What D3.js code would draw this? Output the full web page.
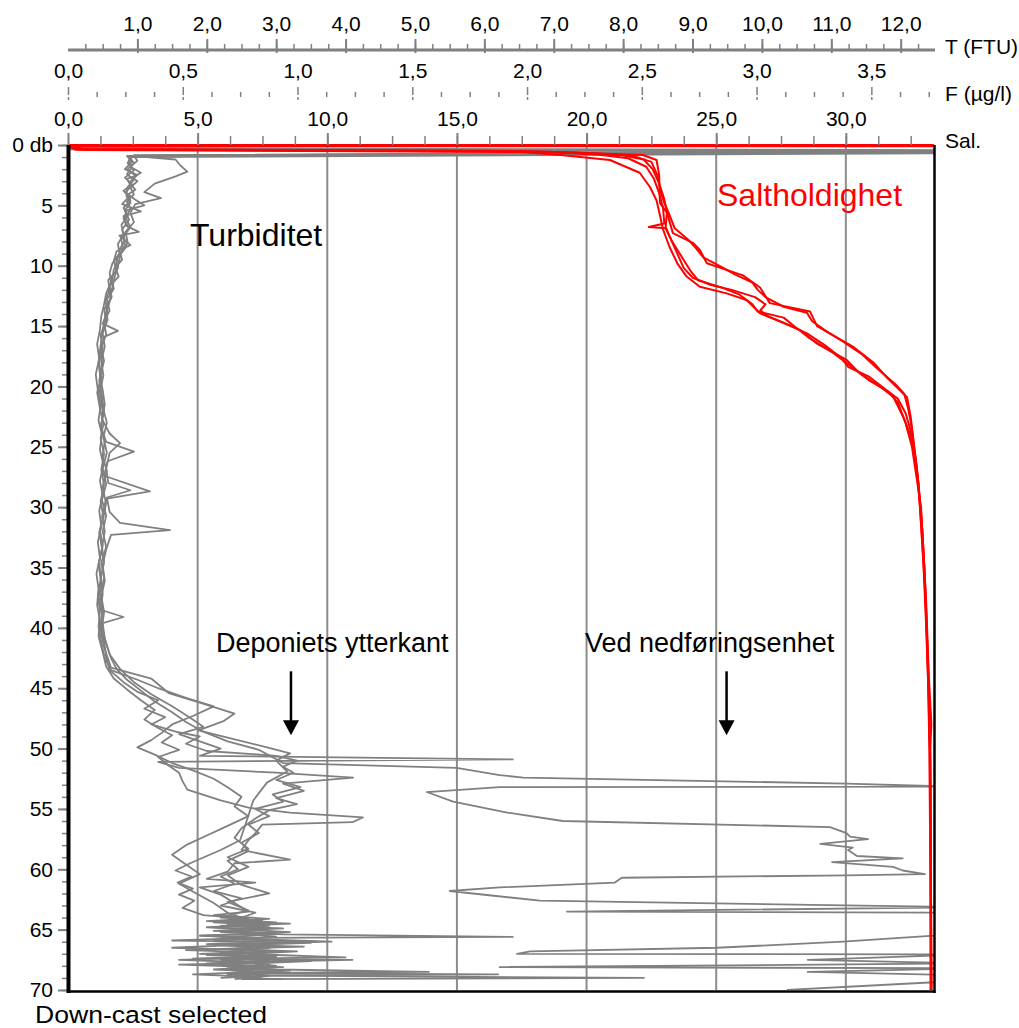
<!DOCTYPE html>
<html>
<head>
<meta charset="utf-8">
<script src="https://cdn.jsdelivr.net/npm/d3@7"></script>
<style>
body { margin: 0; background: #fff; }
svg { display: block; font-family: "Liberation Sans", Arial, sans-serif; }
</style>
</head>
<body>
<svg width="1019" height="1028"></svg>
<script>
// tick values for the three top scales and the depth axis
const turbTicks = d3.range(1, 13);
const fluorTicks = [0, 0.5, 1, 1.5, 2, 2.5, 3, 3.5];
const salTicks = [0, 5, 10, 15, 20, 25, 30];
const depthTicks = d3.range(0, 71, 5);

// turbidity casts, [depth (db), T (FTU)]
const turbCastA = [[0.25,0],[0.45,15],[0.95,1.0],[1.2,1.55],[1.7,1.62],[2.2,1.72],[2.6,1.55],[3.2,1.25],[3.9,1.1],[4.4,1.34],[4.9,0.97],[5.6,0.9],[6.4,0.95],[7.2,0.83],[8.1,0.86],[9.0,0.76],[10.0,0.72],[11.0,0.67],[12.0,0.63],[13.0,0.6],[14.1,0.54],[15.3,0.5],[16.6,0.47],[18.0,0.44],[19.4,0.47],[20.7,0.44],[22.0,0.5],[23.4,0.48],[24.6,0.55],[25.4,0.95],[26.2,0.57],[27.4,0.52],[28.7,1.18],[29.3,0.56],[30.6,0.52],[31.9,0.46],[33.2,0.5],[34.6,0.45],[36.0,0.48],[37.4,0.44],[38.8,0.49],[40.2,0.47],[41.6,0.52],[42.6,0.58],[43.3,0.62],[44.2,1.2],[45.4,1.45],[46.2,1.9],[47.1,2.4],[47.7,2.25],[48.5,1.88],[49.1,2.3],[49.9,2.87],[50.4,3.2],[51.0,3.0],[51.9,3.16],[52.8,2.87],[54.3,2.67],[55.9,2.58],[57.6,2.48],[58.4,2.2],[59.5,1.76],[60.1,1.55],[60.6,1.78],[61.1,1.58],[61.6,1.8],[62.1,1.6],[62.6,1.82],[63.2,1.65],[63.8,1.95],[64.1,2.6],[64.3,2.0],[64.5,2.9],[64.7,2.2],[64.9,3.1],[65.1,2.3],[65.3,2.9],[65.5,1.9],[65.7,2.7],[65.9,2.1],[66.1,3.3],[66.3,2.2],[66.5,2.9],[66.7,1.7],[66.9,2.8],[67.1,2.0],[67.3,3.0],[67.5,2.2],[67.7,2.9],[67.9,1.6],[68.1,2.7],[68.3,2.1],[68.5,3.0],[68.7,2.3],[68.9,2.8],[69.1,2.4]];
const turbCastB = [[0.3,0],[0.5,13],[0.85,0.95],[1.3,0.88],[1.9,0.92],[2.4,0.85],[2.9,0.95],[3.4,0.87],[4.0,0.84],[4.6,0.9],[5.2,0.8],[5.9,0.86],[6.6,0.77],[7.4,0.8],[8.2,0.72],[9.0,0.74],[9.8,0.64],[10.6,0.6],[11.4,0.62],[12.3,0.55],[13.2,0.52],[14.2,0.48],[15.3,0.46],[16.5,0.42],[17.7,0.45],[19.0,0.4],[20.3,0.43],[21.6,0.47],[22.8,0.44],[24.0,0.49],[25.2,0.46],[26.5,0.51],[27.8,0.46],[29.0,0.5],[30.3,0.45],[31.6,0.48],[32.9,0.43],[34.2,0.46],[35.5,0.41],[36.8,0.44],[38.1,0.42],[39.4,0.46],[40.7,0.44],[42.0,0.5],[43.2,0.55],[44.2,0.66],[45.1,0.85],[46.0,1.05],[46.8,1.25],[47.6,1.1],[48.3,1.3],[48.9,1.5],[49.5,1.35],[50.1,1.6],[50.7,1.3],[51.4,1.45],[52.0,1.6],[52.7,1.65],[53.4,1.72],[54.3,2.2],[54.9,2.6],[55.3,3.2],[55.7,4.25],[56.1,4.1],[56.3,2.8],[57.0,2.7],[57.6,2.6],[58.4,2.5],[59.2,3.2],[59.5,2.4],[60.2,2.3],[60.8,2.0],[61.1,2.7],[61.5,1.9],[62.1,2.2],[62.8,2.4],[63.5,2.6],[63.8,2.1],[64.1,2.9],[64.3,2.3],[64.5,3.2],[64.7,2.4],[64.9,2.9],[65.1,2.1],[65.3,3.0],[65.5,1.9],[65.7,2.6],[65.9,1.5],[66.0,2.7],[66.2,2.0],[66.4,3.4],[66.6,2.2],[66.8,2.8],[67.0,1.9],[67.2,2.7],[67.4,2.1],[67.5,1.6],[67.7,2.6],[67.9,2.0],[68.1,3.1],[68.3,2.2],[68.5,2.7],[68.7,1.8],[68.9,2.6],[69.0,2.2]];
const turbCastC = [[0.35,0],[0.55,12],[0.9,0.85],[1.4,0.92],[2.0,0.82],[2.5,1.0],[2.8,0.85],[3.3,0.9],[3.8,0.8],[4.3,0.88],[4.9,0.78],[5.5,1.05],[5.9,0.8],[6.7,0.84],[7.2,1.02],[7.5,0.74],[8.3,0.9],[8.8,0.7],[9.6,0.66],[10.4,0.7],[11.2,0.58],[12.0,0.6],[12.9,0.54],[13.8,0.57],[14.8,0.5],[15.4,0.72],[15.9,0.52],[17.1,0.47],[18.3,0.5],[19.5,0.45],[20.8,0.49],[22.1,0.52],[23.3,0.47],[24.5,0.53],[25.8,0.5],[27.0,0.56],[28.3,0.5],[29.5,0.54],[30.8,0.49],[32.0,0.53],[33.3,0.49],[34.6,0.52],[35.9,0.47],[37.2,0.5],[38.5,0.47],[39.1,0.8],[39.6,0.5],[40.9,0.53],[42.2,0.6],[43.4,0.75],[44.5,0.95],[45.5,1.2],[46.5,1.5],[47.4,1.75],[48.2,1.95],[48.8,1.6],[49.4,1.9],[50.0,2.2],[50.6,1.9],[50.9,6.41],[51.1,1.3],[51.6,1.6],[52.0,3.0],[52.4,4.11],[52.9,3.1],[53.5,3.4],[54.1,3.0],[54.6,3.3],[55.1,2.9],[55.8,2.7],[56.6,2.5],[57.4,2.4],[58.3,2.6],[59.0,2.3],[59.8,2.6],[60.5,2.3],[61.3,2.5],[62.0,2.9],[62.7,2.3],[63.4,2.6],[64.0,2.2],[64.2,2.8],[64.4,2.3],[64.6,2.9],[64.8,2.1],[65.0,2.7],[65.2,2.4],[65.4,3.1],[65.6,6.41],[65.7,2.2],[65.9,2.9],[66.1,3.5],[66.3,2.3],[66.5,1.5],[66.7,2.6],[66.9,2.2],[67.1,3.0],[67.3,4.0],[67.4,2.4],[67.6,2.9],[67.8,2.0],[68.0,2.8],[68.2,2.3],[68.4,3.2],[68.6,2.5],[68.8,2.9],[69.0,2.6]];
const turbCastD = [[0.28,0],[0.5,14.5],[0.9,0.95],[1.3,1.0],[1.8,0.9],[2.3,1.05],[2.7,0.93],[3.0,1.0],[3.5,0.9],[4.1,0.95],[4.7,0.85],[5.3,0.9],[6.0,0.83],[6.8,0.9],[7.6,0.8],[8.5,0.83],[9.3,0.72],[10.1,0.68],[10.9,0.73],[11.7,0.6],[12.6,0.63],[13.5,0.55],[14.5,0.57],[15.6,0.5],[16.7,0.53],[17.9,0.48],[19.1,0.51],[20.4,0.46],[21.7,0.5],[23.0,0.56],[24.2,0.51],[25.5,0.56],[26.8,0.5],[28.1,0.55],[29.4,0.49],[30.7,0.55],[32.0,0.5],[33.3,0.55],[34.6,0.48],[35.9,0.52],[37.2,0.46],[38.5,0.5],[39.8,0.47],[41.1,0.52],[42.4,0.55],[43.5,0.6],[44.5,0.8],[45.3,1.0],[46.0,1.3],[46.7,1.1],[47.4,1.4],[48.0,1.2],[48.6,1.55],[49.0,1.9],[49.6,1.7],[50.2,2.0],[50.6,3.0],[51.0,3.3],[51.5,3.1],[52.0,3.25],[52.6,3.0],[53.2,3.35],[53.8,2.95],[54.4,3.1],[55.0,2.7],[55.6,2.9],[56.3,2.6],[57.0,2.75],[57.8,2.5],[58.5,2.6],[59.3,2.3],[60.0,2.45],[60.6,2.2],[61.2,2.4],[61.8,2.1],[62.4,2.5],[63.0,2.2],[63.6,2.7],[64.2,2.4],[64.4,3.0],[64.6,2.3],[64.8,2.9],[65.0,2.5],[65.2,3.2],[65.4,2.6],[65.6,3.0],[65.8,2.4],[66.0,3.6],[66.2,2.5],[66.4,3.1],[66.6,2.3],[66.8,3.3],[67.0,2.6],[67.2,3.0],[67.4,2.4],[67.6,3.5],[67.8,2.7],[68.0,3.0],[68.2,2.4],[68.4,3.1],[68.6,2.6],[68.7,6.2],[68.8,2.9],[69.0,2.5],[69.1,3.1]];
const turbCastE = [[0.32,0],[0.55,13.5],[0.95,0.88],[1.5,0.95],[2.0,0.86],[2.6,0.98],[3.1,0.88],[3.7,0.97],[4.2,0.84],[4.8,0.9],[5.4,0.82],[6.2,0.88],[7.0,0.78],[7.9,0.82],[8.7,0.74],[9.5,0.78],[10.3,0.66],[11.1,0.64],[11.9,0.58],[12.7,0.62],[13.6,0.52],[14.6,0.55],[15.7,0.47],[16.8,0.5],[18.0,0.45],[19.2,0.48],[20.5,0.42],[21.8,0.46],[23.1,0.51],[24.3,0.47],[25.6,0.52],[26.9,0.48],[28.2,0.52],[29.5,0.47],[30.8,0.51],[32.1,0.45],[33.4,0.49],[34.7,0.44],[36.0,0.47],[37.3,0.43],[38.6,0.46],[39.9,0.44],[41.2,0.48],[42.5,0.53],[43.5,0.62],[44.3,1.0],[45.0,1.3],[45.8,1.7],[46.5,2.1],[47.3,1.8],[48.0,1.5],[48.7,1.35],[49.3,1.2],[49.9,1.0],[50.5,1.25],[51.2,1.5],[51.8,1.8],[52.5,2.1],[53.2,2.3],[54.0,2.5],[54.8,2.4],[55.6,2.6],[56.4,2.3],[57.2,2.0],[58.0,1.7],[58.8,1.5],[59.6,1.7],[60.4,1.9],[61.2,1.6],[62.0,1.85],[62.8,2.1],[63.6,2.3],[64.2,2.6],[64.4,2.1],[64.6,2.8],[64.8,2.0],[65.0,2.7],[65.2,2.2],[65.4,3.0],[65.6,2.3],[65.8,2.8],[66.0,3.8],[66.2,2.1],[66.4,2.9],[66.6,2.4],[66.8,3.1],[67.0,2.2],[67.2,2.8],[67.4,1.8],[67.5,4.1],[67.7,2.3],[67.9,2.9],[68.1,2.4],[68.3,3.0],[68.5,5.2],[68.6,2.3],[68.8,2.8],[69.0,8.3],[69.1,2.5]];
const turbCastF = [[0.3,0],[0.6,16],[1.0,0.9],[1.5,0.86],[2.1,0.95],[2.7,0.82],[3.3,0.93],[3.9,0.83],[4.5,0.96],[5.0,1.1],[5.4,0.85],[6.1,0.8],[6.9,0.88],[7.7,0.76],[8.6,0.8],[9.4,0.69],[10.2,0.72],[11.0,0.62],[11.9,0.66],[12.8,0.56],[13.7,0.6],[14.7,0.52],[15.7,0.55],[16.8,0.48],[17.9,0.52],[19.1,0.46],[20.3,0.5],[21.5,0.53],[22.7,0.49],[23.9,0.6],[24.7,0.75],[25.5,0.6],[26.8,0.55],[28.0,0.58],[28.6,0.9],[29.2,0.56],[30.4,0.6],[31.3,0.75],[31.9,1.47],[32.3,0.62],[33.5,0.55],[34.8,0.5],[36.1,0.53],[37.4,0.48],[38.7,0.52],[40.0,0.49],[41.3,0.55],[42.5,0.62],[43.4,0.7],[44.3,0.85],[45.2,1.05],[46.1,1.25],[47.0,1.5],[47.8,1.7],[48.6,1.95],[49.4,2.3],[50.1,2.75],[51.2,3.1],[51.6,5.6],[52.2,6.22],[52.4,6.56],[52.9,11.22],[53.1,12.42],[53.15,13],[53.2,6.22],[53.6,5.17],[54.4,5.55],[55.3,6.33],[56.0,7.13],[56.5,10.98],[57.0,11.22],[57.3,11.27],[57.5,11.53],[57.9,10.84],[58.2,11.31],[58.4,11.24],[58.9,11.37],[59.1,12.03],[59.4,11.01],[59.8,11.89],[60.1,12.03],[60.4,12.35],[60.5,11.22],[60.7,7.98],[61.1,7.88],[61.5,6.22],[61.8,5.5],[62.6,6.8],[63.1,12.42],[63.15,13],[63.5,7.19],[63.6,13],[65.3,13],[66.0,11.17],[66.5,9.35],[66.8,6.66],[67.0,6.47],[67.05,13],[67.5,10.66],[67.8,13],[68.1,6.22],[68.2,13],[68.5,10.66],[68.8,13],[69.2,13],[70.0,10.36]];

// salinity casts, [depth (db), salinity]
const salCastA = [[0,33.4],[0,0],[0.35,0.4],[0.5,17.0],[0.83,19.0],[1.24,20.9],[2.3,22.05],[3.5,22.45],[4.6,22.7],[6.0,22.85],[7.0,22.95],[8.45,23.2],[9.8,23.5],[10.9,23.86],[11.74,24.37],[12.29,25.4],[12.84,26.17],[13.94,26.69],[14.5,27.33],[15.33,28.23],[16.43,28.87],[17.81,30.03],[18.92,30.54],[20.02,31.32],[20.85,31.83],[22.51,32.21],[23.89,32.47],[26,32.7],[30,32.86],[35,33.0],[40,33.1],[45,33.18],[50,33.24],[60,33.27],[70,33.28]];
const salCastB = [[0.05,33.4],[0.05,0],[0.38,0.6],[0.55,18.5],[0.8,20.5],[1.1,21.6],[1.8,22.3],[2.8,22.6],[4.0,22.8],[5.2,22.95],[6.5,23.0],[6.8,22.4],[6.9,23.05],[8.0,23.3],[9.2,23.65],[10.4,24.0],[11.2,24.3],[11.8,25.2],[12.4,25.9],[13.2,26.4],[13.8,26.6],[14.3,27.6],[15.0,28.0],[16.0,28.6],[17.2,29.5],[18.5,30.3],[19.5,30.9],[20.4,31.6],[21.3,32.0],[23.0,32.3],[25,32.55],[30,32.9],[35,33.03],[40,33.12],[45,33.2],[50,33.26],[60,33.28],[70,33.3]];
const salCastC = [[0.1,33.4],[0.1,0],[0.42,0.8],[0.6,19.5],[0.8,21.3],[1.2,22.2],[2.0,22.55],[3.2,22.8],[4.5,23.0],[5.6,23.1],[6.8,23.05],[7.8,23.25],[9.0,23.5],[10.2,23.75],[11.0,24.1],[11.6,24.8],[12.0,25.6],[12.6,26.5],[13.2,26.9],[13.7,26.7],[14.2,27.0],[14.9,27.8],[15.6,28.5],[16.6,29.2],[17.6,29.8],[18.4,30.1],[19.2,30.9],[20.2,31.5],[21.0,32.0],[22.2,32.3],[24,32.55],[28,32.8],[33,32.95],[38,33.08],[44,33.17],[50,33.22],[60,33.26],[70,33.27]];
const salCastD = [[0,33.4],[0,0],[0.33,0.5],[0.5,17.5],[0.75,21.0],[0.83,22.17],[1.24,22.7],[2.5,22.8],[4.8,22.83],[5.6,23.1],[7.3,23.33],[8.1,24.1],[8.7,24.37],[9.8,24.64],[10.8,26.03],[11.8,26.69],[13.1,27.07],[13.8,28.62],[15.0,28.89],[16.7,30.27],[18.0,31.05],[19.3,31.6],[20.9,32.36],[22.5,32.5],[24.2,32.59],[28,32.8],[32,32.95],[38,33.1],[44,33.2],[48,33.3],[50,33.25],[60,33.28],[70,33.3]];
const salCastE = [[0.05,33.4],[0.05,0],[0.4,0.3],[0.5,16.5],[0.7,20.0],[0.9,21.8],[1.4,22.5],[2.6,22.75],[3.8,22.85],[4.8,23.0],[5.8,23.2],[6.9,23.4],[7.8,23.9],[8.5,24.2],[9.3,24.5],[10.1,25.2],[10.7,25.7],[11.4,26.4],[12.0,26.6],[12.6,26.9],[13.4,27.6],[13.9,28.5],[14.6,28.7],[15.5,29.3],[16.3,29.9],[17.3,30.6],[18.5,31.2],[19.8,31.9],[20.6,32.25],[21.8,32.4],[23.5,32.55],[27,32.75],[31,32.92],[36,33.05],[42,33.15],[47,33.22],[52,33.26],[60,33.28],[70,33.29]];

const turbCasts = [turbCastA, turbCastB, turbCastC, turbCastD, turbCastE, turbCastF];
const salCasts = [salCastA, salCastB, salCastC, salCastD, salCastE];

// annotation arrows: salinity-axis position, depth of tail and tip
const arrowSal = [8.6, 25.4];
const arrowDepth = [43.6, 48.9];

const svg = d3.select("svg");
const plotLeft = 68, plotRight = 934, plotTop = 145, plotBottom = 990;
const grey = "#808080";

const xT = d3.scaleLinear().domain([0, 12.48]).range([plotLeft, plotRight]);
const xF = d3.scaleLinear().domain([0, 3.773]).range([plotLeft, plotRight]);
const xS = d3.scaleLinear().domain([0, 33.4]).range([plotLeft, plotRight]);
const y = d3.scaleLinear().domain([0, 70]).range([plotTop, plotBottom]);

const comma = d => d.toFixed(1).replace(".", ",");

svg.append("clipPath").attr("id", "plot")
    .append("rect")
    .attr("x", plotLeft).attr("y", plotTop - 2)
    .attr("width", plotRight - plotLeft).attr("height", plotBottom - plotTop + 2);

// salinity gridlines
svg.append("g")
    .selectAll("line")
    .data(salTicks.slice(1))
    .join("line")
    .attr("x1", d => xS(d)).attr("x2", d => xS(d))
    .attr("y1", plotTop).attr("y2", plotBottom)
    .attr("stroke", "#8c8c8c")
    .attr("stroke-width", 2);

const plot = svg.append("g").attr("clip-path", "url(#plot)");

plot.selectAll("path.turb")
    .data(turbCasts)
    .join("path")
    .attr("class", "turb")
    .attr("fill", "none")
    .attr("stroke", grey)
    .attr("stroke-width", 1.8)
    .attr("stroke-linejoin", "round")
    .attr("d", d3.line().x(d => xT(d[1])).y(d => y(d[0])));

plot.selectAll("path.sal")
    .data(salCasts)
    .join("path")
    .attr("class", "sal")
    .attr("fill", "none")
    .attr("stroke", "#ff0000")
    .attr("stroke-width", 2)
    .attr("stroke-linejoin", "round")
    .attr("d", d3.line().x(d => xS(d[1])).y(d => y(d[0])));

// frame
svg.append("line").attr("x1", plotRight + 0.5).attr("x2", plotRight + 0.5)
    .attr("y1", plotTop).attr("y2", plotBottom + 3)
    .attr("stroke", "#000").attr("stroke-width", 2.5);
svg.append("line").attr("x1", plotLeft).attr("x2", plotRight + 1.5)
    .attr("y1", plotBottom + 1.5).attr("y2", plotBottom + 1.5)
    .attr("stroke", "#000").attr("stroke-width", 2.5);

function styleAxis(g, fontSize) {
    g.select(".domain").remove();
    g.selectAll(".tick line").attr("stroke", grey);
    g.selectAll(".tick text")
        .attr("fill", "#000")
        .style("font-size", fontSize + "px")
        .style("font-family", '"Liberation Sans", Arial, sans-serif');
}

// depth axis
svg.append("g")
    .attr("transform", `translate(${plotLeft},0)`)
    .call(d3.axisLeft(y).tickValues(d3.range(0, 71, 1)).tickSize(6).tickFormat(""))
    .call(g => styleAxis(g, 21))
    .call(g => g.selectAll(".tick line").attr("stroke-width", 1.5));
svg.append("g")
    .attr("transform", `translate(${plotLeft},0)`)
    .call(d3.axisLeft(y).tickValues(depthTicks).tickSize(10).tickPadding(5)
        .tickFormat(d => d === 0 ? "0 db" : d))
    .call(g => styleAxis(g, 21))
    .call(g => g.selectAll(".tick line").attr("stroke-width", 2));
svg.append("line").attr("x1", plotLeft + 0.5).attr("x2", plotLeft + 0.5)
    .attr("y1", plotTop).attr("y2", plotBottom + 3)
    .attr("stroke", "#000").attr("stroke-width", 4);

// turbidity axis
svg.append("line").attr("x1", plotLeft).attr("x2", plotRight + 1)
    .attr("y1", 50).attr("y2", 50)
    .attr("stroke", grey).attr("stroke-width", 3);
svg.append("g")
    .attr("transform", "translate(0,50)")
    .call(d3.axisTop(xT).tickValues(d3.range(0.25, 12.49, 0.25)).tickSize(6).tickFormat(""))
    .call(g => styleAxis(g, 21))
    .call(g => g.selectAll(".tick line").attr("stroke-width", 1.5));
svg.append("g")
    .attr("transform", "translate(0,50)")
    .call(d3.axisTop(xT).tickValues(turbTicks).tickSize(11).tickPadding(8).tickFormat(comma))
    .call(g => styleAxis(g, 21))
    .call(g => g.selectAll(".tick line").attr("y1", 3).attr("stroke-width", 2));

// fluorescence axis (ticks only)
svg.append("g")
    .attr("transform", "translate(0,100)")
    .call(d3.axisTop(xF).tickValues(d3.range(0.125, 3.76, 0.125).filter(d => d % 0.5 !== 0)).tickSize(8).tickFormat(""))
    .call(g => styleAxis(g, 21))
    .call(g => g.selectAll(".tick line").attr("y1", -3).attr("stroke-width", 1.5));
svg.append("g")
    .attr("transform", "translate(0,100)")
    .call(d3.axisTop(xF).tickValues(fluorTicks).tickSize(13).tickPadding(9).tickFormat(comma))
    .call(g => styleAxis(g, 21))
    .call(g => g.selectAll(".tick line").attr("stroke-width", 1.5).attr("stroke-dasharray", "3,2,8"));

// salinity axis
svg.append("g")
    .attr("transform", `translate(0,${plotTop})`)
    .call(d3.axisTop(xS).tickValues(d3.range(1.25, 33.4, 1.25)).tickSize(9).tickFormat(""))
    .call(g => styleAxis(g, 21))
    .call(g => g.selectAll(".tick line").attr("stroke-width", 1.5));
svg.append("g")
    .attr("transform", `translate(0,${plotTop})`)
    .call(d3.axisTop(xS).tickValues(salTicks).tickSize(12).tickPadding(7).tickFormat(comma))
    .call(g => styleAxis(g, 21))
    .call(g => g.selectAll(".tick line").attr("stroke-width", 2));

// axis names on the right
const axisNames = [["T (FTU)", 54], ["F (µg/l)", 101], ["Sal.", 148]];
svg.append("g")
    .selectAll("text")
    .data(axisNames)
    .join("text")
    .attr("x", 945)
    .attr("y", d => d[1])
    .style("font-size", "21px")
    .text(d => d[0]);

// labels
svg.append("text").attr("x", 190).attr("y", 246)
    .style("font-size", "32px").text("Turbiditet");
svg.append("text").attr("x", 717).attr("y", 206)
    .style("font-size", "32px").attr("fill", "#ff0000").text("Saltholdighet");
svg.append("text").attr("x", 216).attr("y", 652)
    .style("font-size", "27px").text("Deponiets ytterkant");
svg.append("text").attr("x", 585).attr("y", 652)
    .style("font-size", "27px").text("Ved nedføringsenhet");
svg.append("text").attr("x", 35).attr("y", 1022.5)
    .attr("textLength", 232).attr("lengthAdjust", "spacingAndGlyphs")
    .style("font-size", "24.5px").text("Down-cast selected");

// arrows
const arrows = svg.append("g").selectAll("g").data(arrowSal).join("g");
arrows.append("line")
    .attr("x1", d => xS(d)).attr("x2", d => xS(d))
    .attr("y1", y(arrowDepth[0])).attr("y2", y(arrowDepth[1]) - 12)
    .attr("stroke", "#000").attr("stroke-width", 2.5);
arrows.append("path")
    .attr("fill", "#000")
    .attr("d", d => {
        const ax = xS(d), tip = y(arrowDepth[1]);
        return `M${ax - 8},${tip - 15}L${ax + 8},${tip - 15}L${ax},${tip}Z`;
    });
</script>
</body>
</html>
